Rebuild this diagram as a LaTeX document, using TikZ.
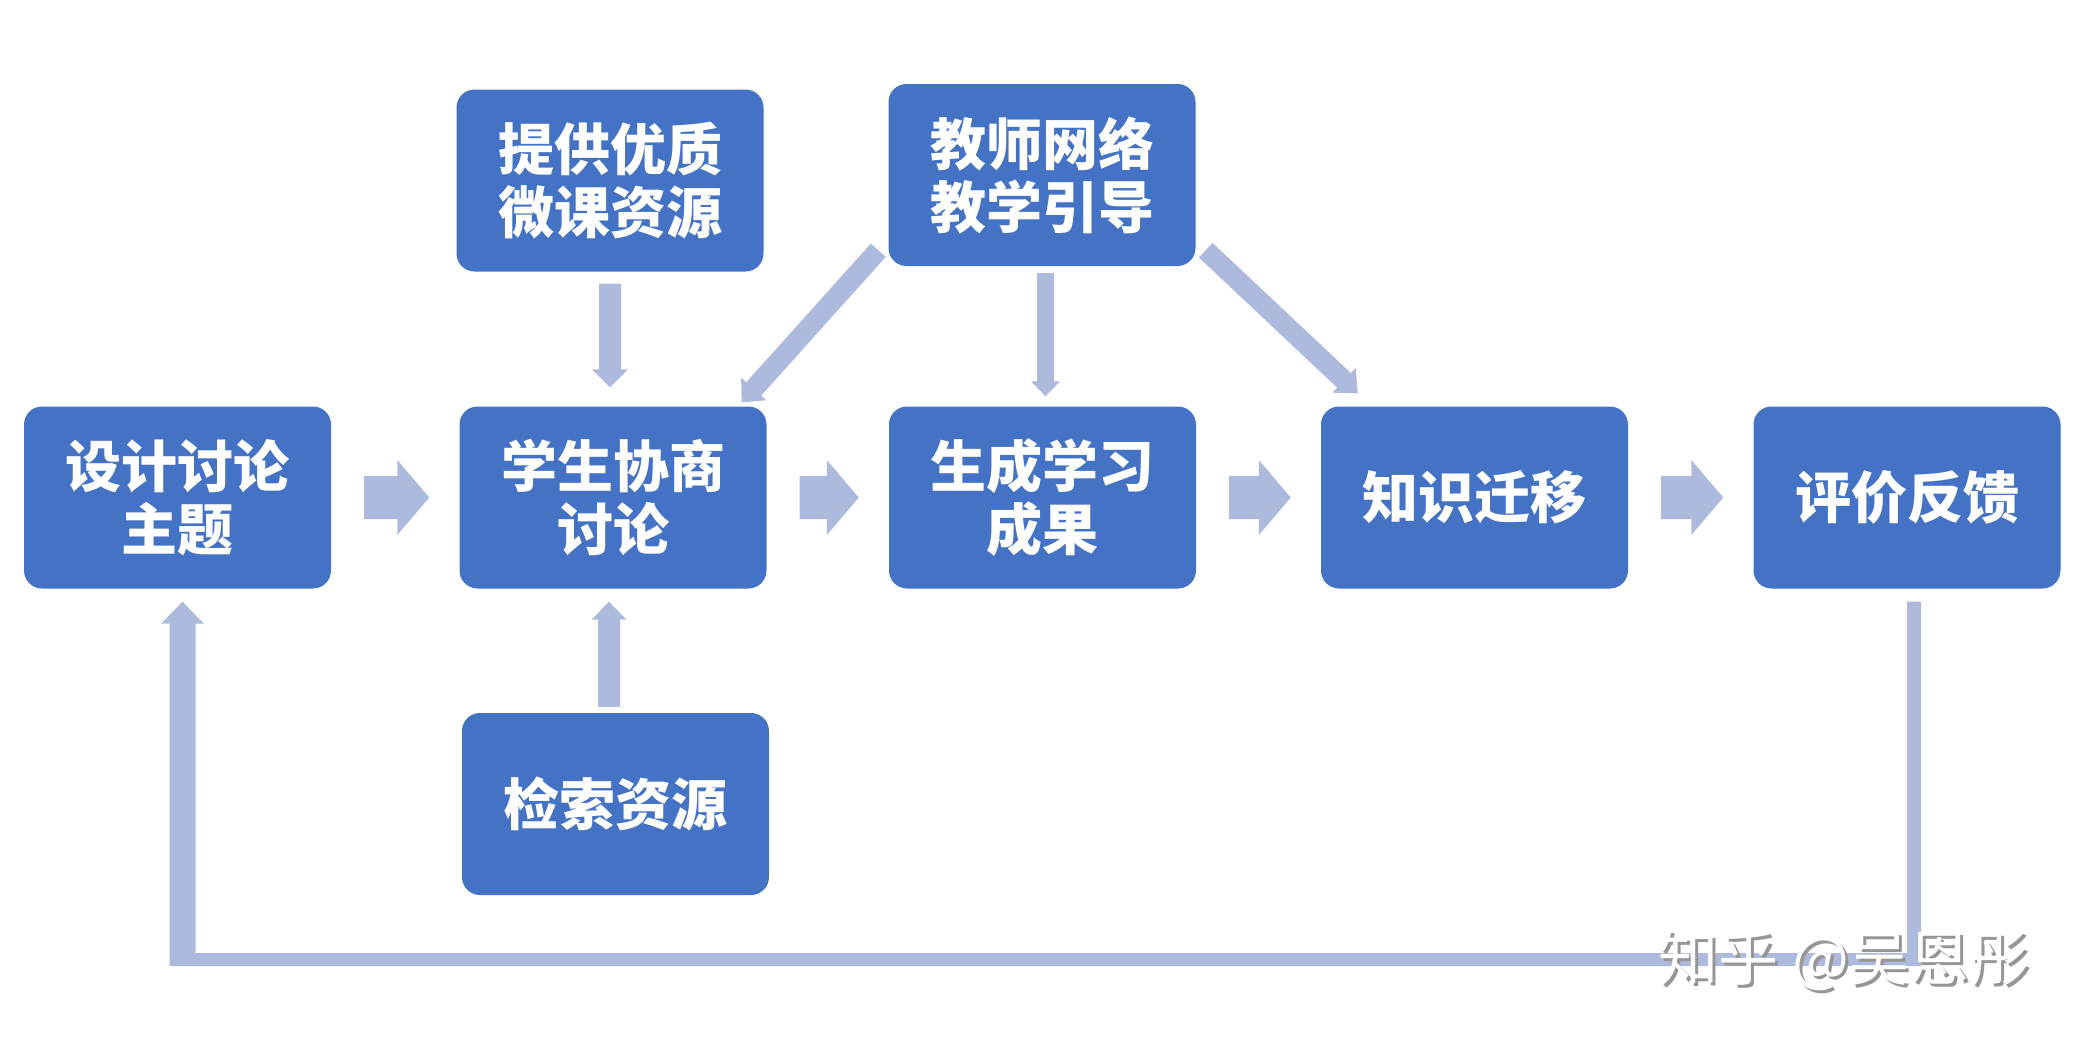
\documentclass[tikz,border=0pt]{standalone}
\usepackage{fontspec}
\newfontfamily\cjk{Noto Sans CJK SC}
\usetikzlibrary{calc}
\definecolor{boxblue}{RGB}{68,114,196}
\definecolor{arrowblue}{RGB}{174,186,221}
\definecolor{wmshadow}{RGB}{150,150,150}
\tikzset{
  box/.style={fill=boxblue, rounded corners=18pt, minimum width=307pt, minimum height=182pt,
    inner sep=0pt, text=white, align=center, font=\cjk\bfseries\fontsize{56}{63}\selectfont},
  arrowfill/.style={fill=arrowblue},
  wmark/.style={font=\cjk\fontsize{60}{60}\selectfont, inner sep=0pt},
}
% block arrow: #1 start, #2 tip, #3 half shaft width, #4 half head width, #5 head length
\newcommand\blockarr[5]{%
  \coordinate (ba-c) at ($(#2)!#5!(#1)$);
  \fill[arrowfill] ($(#1)!#3!90:(#2)$) -- ($(ba-c)!#3!90:(#2)$) -- ($(ba-c)!#4!90:(#2)$)
    -- (#2) -- ($(ba-c)!#4!-90:(#2)$) -- ($(ba-c)!#3!-90:(#2)$) -- ($(#1)!#3!-90:(#2)$) -- cycle;
}
\begin{document}
\begin{tikzpicture}[x=1pt,y=-1pt]
\useasboundingbox (0,0) rectangle (2090,1042);
\fill[white] (0,0) rectangle (2090,1042);

% boxes
\node[box] (n1) at (177.5,497.5) {设计讨论\\主题};
\node[box] (n2) at (613,497.5) {学生协商\\讨论};
\node[box] (n3) at (1042.5,497.5) {生成学习\\成果};
\node[box] (n4) at (1474.5,497.5) {知识迁移};
\node[box] (n5) at (1907,497.5) {评价反馈};
\node[box] (n6) at (610,180.5) {提供优质\\微课资源};
\node[box] (n7) at (1042,175) {教师网络\\教学引导};
\node[box] (n8) at (615.5,804) {检索资源};

% horizontal arrows
\coordinate (r1a) at ($(n1.east)+(33,0)$);
\coordinate (r1b) at ($(n2.west)+(-30,0)$);
\coordinate (r2a) at ($(n2.east)+(33,0)$);
\coordinate (r2b) at ($(n3.west)+(-30,0)$);
\coordinate (r3a) at ($(n3.east)+(33,0)$);
\coordinate (r3b) at ($(n4.west)+(-30,0)$);
\coordinate (r4a) at ($(n4.east)+(33,0)$);
\coordinate (r4b) at ($(n5.west)+(-30,0)$);
\blockarr{r1a}{r1b}{21.5pt}{37.5pt}{32pt}
\blockarr{r2a}{r2b}{21.5pt}{37.5pt}{32pt}
\blockarr{r3a}{r3b}{21.5pt}{37.5pt}{32pt}
\blockarr{r4a}{r4b}{21.5pt}{37.5pt}{32pt}

% vertical arrows
\coordinate (d1a) at ($(n6.south)+(0,12)$);
\coordinate (d1b) at ($(n2.north)+(-3,-19)$);
\blockarr{d1a}{d1b}{11pt}{18pt}{18pt}
\coordinate (d2a) at ($(n7.south)+(3.5,7)$);
\coordinate (d2b) at ($(n3.north)+(3,-10)$);
\blockarr{d2a}{d2b}{8.5pt}{14.5pt}{15pt}
\coordinate (u1a) at ($(n8.north)+(-6.5,-6)$);
\coordinate (u1b) at ($(n2.south)+(-4,13)$);
\blockarr{u1a}{u1b}{11pt}{17.5pt}{18pt}

% diagonal arrows
\coordinate (dla) at ($(n7.south west)+(-10,-16)$);
\coordinate (dlb) at ($(n2.north east)+(-25,-4)$);
\blockarr{dla}{dlb}{10pt}{17pt}{18pt}
\coordinate (dra) at ($(n7.south east)+(10,-16)$);
\coordinate (drb) at ($(n4.north west)+(37,-13)$);
\blockarr{dra}{drb}{10pt}{17pt}{19pt}

% feedback loop
\coordinate (fbS) at ($(n5.south)+(7,13)$);
\coordinate (fbT) at ($(n1.south)+(5,13)$);
\coordinate (fbB) at (1000,959.5);
\fill[arrowfill] ($(fbS)+(-7,0)$) -- ($(fbS)+(7,0)$) -- ($(fbS|-fbB)+(7,6.5)$)
  -- ($(fbT|-fbB)+(-13,6.5)$) -- ($(fbT)+(-13,22)$) -- ($(fbT)+(-21.5,22)$) -- (fbT)
  -- ($(fbT)+(21.5,22)$) -- ($(fbT)+(13,22)$) -- ($(fbT|-fbB)+(13,-6.5)$)
  -- ($(fbS|-fbB)+(-7,-6.5)$) -- cycle;

% watermark
\node[wmark, text=wmshadow] (wms) at (1847,963) {知乎 @吴恩彤};
\node[wmark, text=white] (wm) at (1844,960) {知乎 @吴恩彤};
\end{tikzpicture}
\end{document}
